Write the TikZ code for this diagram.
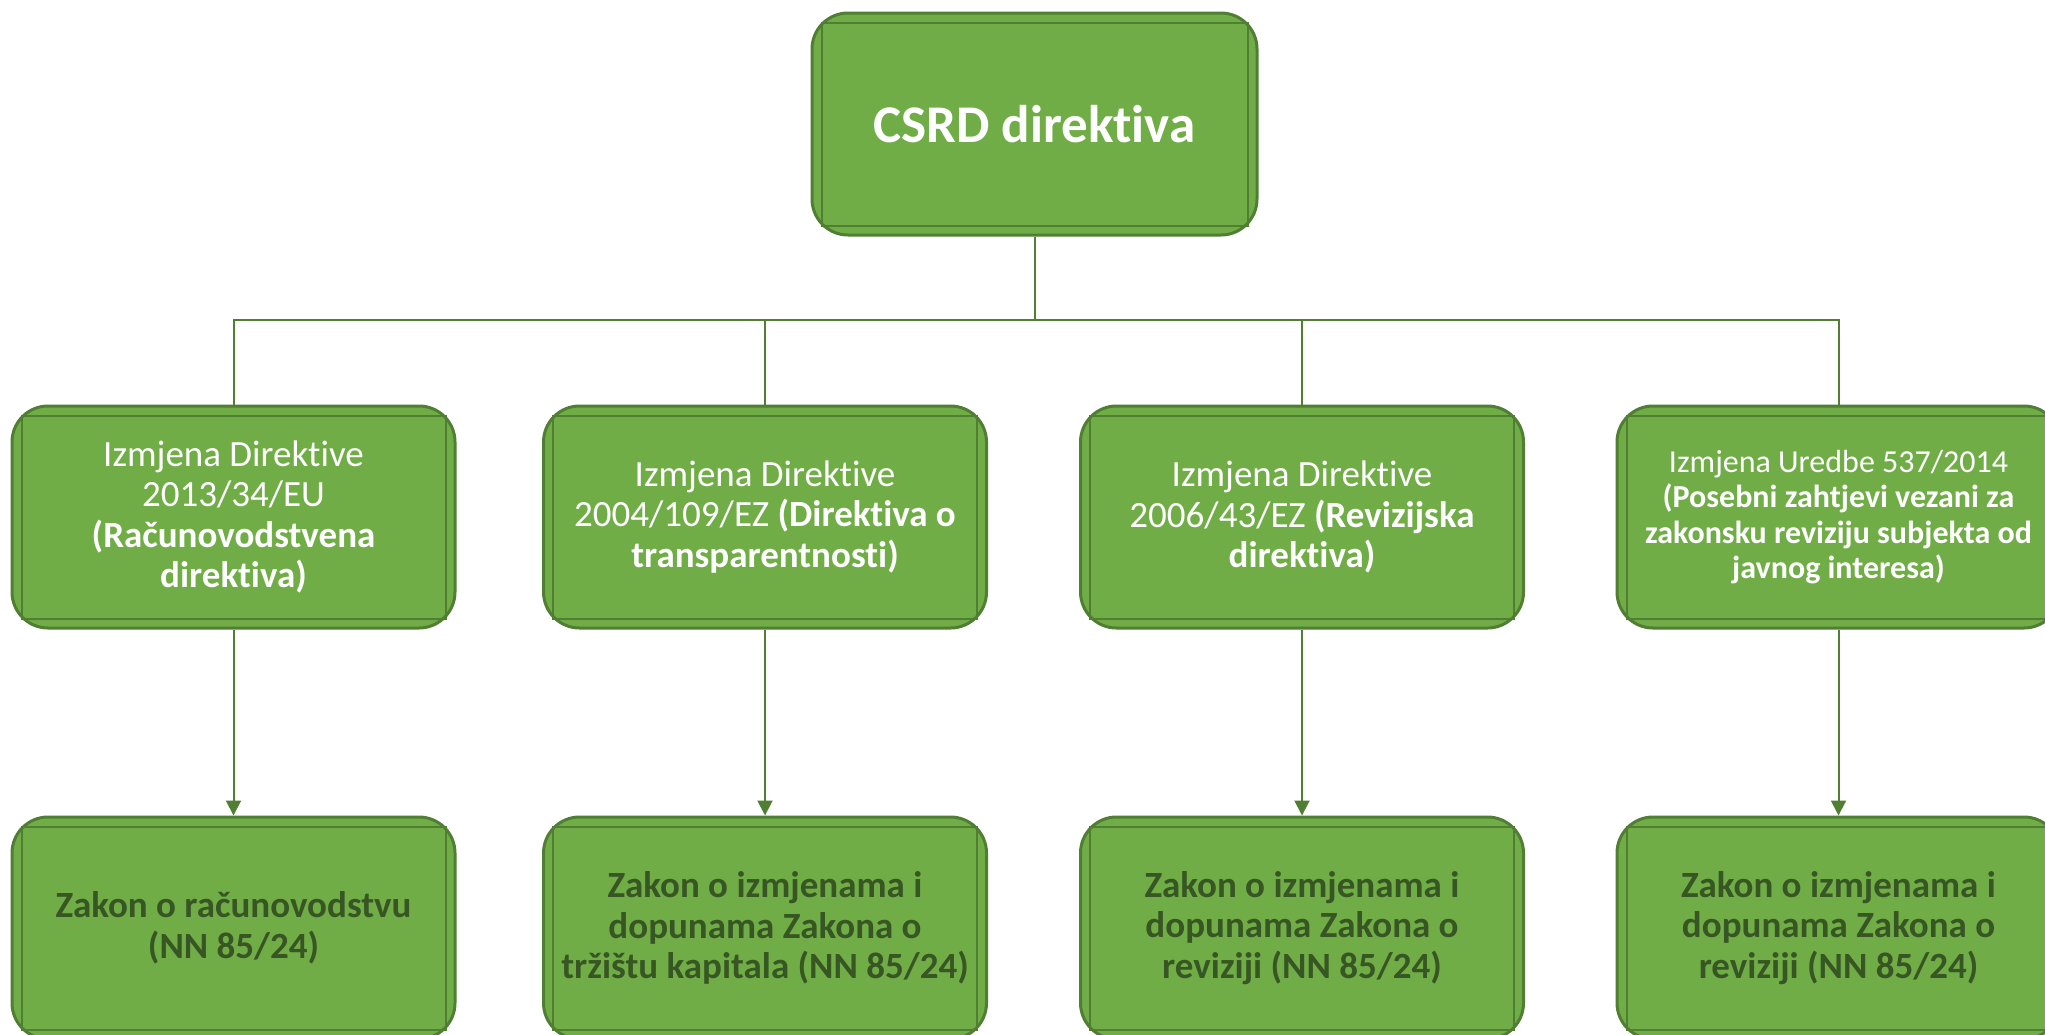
\documentclass[tikz,border=0pt]{standalone}
\usepackage{fontspec}
\setmainfont[RawFeature={-liga;-clig;-calt;-dlig}]{Carlito}
\usetikzlibrary{arrows.meta}
\definecolor{boxgreen}{HTML}{70AD47}
\definecolor{linegreen}{HTML}{507E32}
\definecolor{textgreen}{HTML}{375623}
\tikzset{
  procbox/.style={draw=linegreen, line width=1.5pt, fill=boxgreen, rounded corners=18pt,
    minimum width=221.5pt, minimum height=111pt, align=center, text=white,
    font=\fontsize{18.5}{20.3}\selectfont},
  smallbox/.style={procbox, font=\fontsize{16}{17.8}\selectfont},
  lawbox/.style={procbox, text=textgreen, font=\fontsize{18.5}{20.3}\selectfont\bfseries},
  link/.style={draw=linegreen, line width=1pt},
  arr/.style={link, -{Triangle[length=7.5pt,width=7.5pt]}}
}
\begin{document}
\begin{tikzpicture}[x=0.5pt,y=-0.5pt]
\clip (0,0) rectangle (2045,1034);

% top
\node[procbox, minimum width=222.5pt, font=\fontsize{26.5}{29}\selectfont\bfseries] (csrd) at (1034.5,124) {CSRD direktiva};

% directives
\node[procbox] (dir1) at (233.5,517) {Izmjena Direktive\\2013/34/EU\\\textbf{(Računovodstvena}\\\textbf{direktiva)}};
\node[procbox] (dir2) at (765,517) {Izmjena Direktive\\2004/109/EZ \textbf{(Direktiva o}\\\textbf{transparentnosti)}};
\node[procbox] (dir3) at (1302,517) {Izmjena Direktive\\2006/43/EZ \textbf{(Revizijska}\\\textbf{direktiva)}};
\node[smallbox] (dir4) at (1838.5,517) {Izmjena Uredbe 537/2014\\\textbf{(Posebni zahtjevi vezani za}\\\textbf{zakonsku reviziju subjekta od}\\\textbf{javnog interesa)}};

% laws
\node[lawbox] (law1) at (233.5,928) {Zakon o računovodstvu\\(NN 85/24)};
\node[lawbox] (law2) at (765,928) {Zakon o izmjenama i\\dopunama Zakona o\\tržištu kapitala (NN 85/24)};
\node[lawbox] (law3) at (1302,928) {Zakon o izmjenama i\\dopunama Zakona o\\reviziji (NN 85/24)};
\node[lawbox] (law4) at (1838.5,928) {Zakon o izmjenama i\\dopunama Zakona o\\reviziji (NN 85/24)};

% inner frame lines
\foreach \n in {csrd,dir1,dir2,dir3,dir4,law1,law2,law3,law4}
\draw[linegreen, line width=1pt] ([xshift=5.5pt,yshift=-5.5pt]\n.north west) rectangle ([xshift=-5.5pt,yshift=5.5pt]\n.south east);

% connectors
\coordinate (bus) at (1034.5,320);
\draw[link] (csrd.south) -- (bus);
\foreach \n in {dir1,dir2,dir3,dir4}
\draw[link] (bus) -| (\n.north);
\foreach \i in {1,2,3,4}
\draw[arr] (dir\i.south) -- (law\i.north);
\end{tikzpicture}
\end{document}
